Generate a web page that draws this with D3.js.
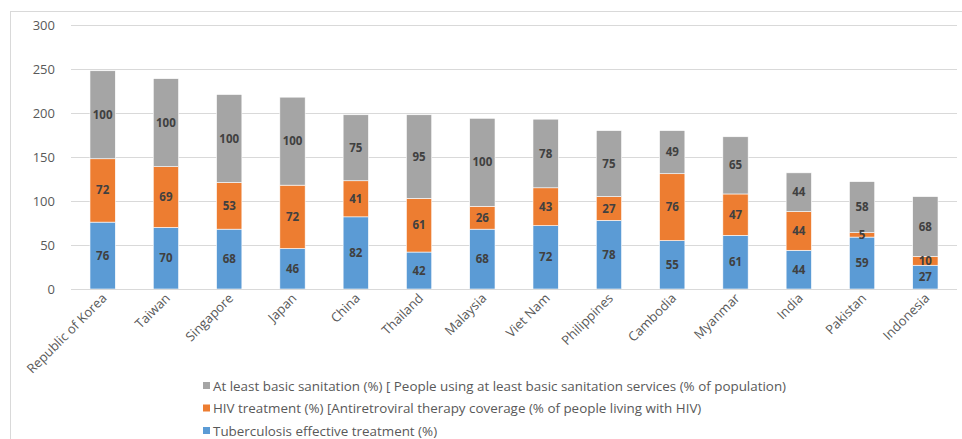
<!DOCTYPE html>
<html>
<head>
<meta charset="utf-8">
<script src="https://cdn.jsdelivr.net/npm/d3@7"></script>
<style>
  html, body { margin: 0; padding: 0; background: #fff; }
  svg { display: block; font-family: "Open Sans", "Noto Sans", sans-serif; }
</style>
</head>
<body>
<svg id="chart" width="962" height="439"></svg>
<script>
// Countries along the x axis
const countries = ["Republic of Korea", "Taiwan", "Singapore", "Japan", "China", "Thailand",
  "Malaysia", "Viet Nam", "Philippines", "Cambodia", "Myanmar", "India", "Pakistan", "Indonesia"];

// Series values (%), bottom to top of each stack
const tuberculosis = [76, 70, 68, 46, 82, 42, 68, 72, 78, 55, 61, 44, 59, 27];
const hivTreatment = [72, 69, 53, 72, 41, 61, 26, 43, 27, 76, 47, 44, 5, 10];
const sanitation   = [100, 100, 100, 100, 75, 95, 100, 78, 75, 49, 65, 44, 58, 68];

const seriesNames = [
  "Tuberculosis effective treatment (%)",
  "HIV treatment (%) [Antiretroviral therapy coverage (% of people living with HIV)",
  "At least basic sanitation (%) [ People using at least basic sanitation services (% of population)"
];
const yTicks = [0, 50, 100, 150, 200, 250, 300];

const colors = ["#5B9BD5", "#ED7D31", "#A5A5A5"];

const rows = countries.map((c, i) => ({
  country: c, s0: tuberculosis[i], s1: hivTreatment[i], s2: sanitation[i]
}));
const keys = ["s0", "s1", "s2"];
const stacked = d3.stack().keys(keys)(rows);

const svg = d3.select("#chart");
const W = 962, H = 439;
const margin = { left: 71 };
const plotRight = 957, plotBottom = 289, plotTop = 25;

// Chart frame
svg.append("rect")
  .attr("x", 10.5).attr("y", 11.5)
  .attr("width", W - 10).attr("height", H - 8)
  .attr("fill", "none").attr("stroke", "#D9D9D9").attr("stroke-width", 1);

const x = d3.scaleBand().domain(countries).range([margin.left, plotRight]).paddingInner(0.6).paddingOuter(0.3);
const y = d3.scaleLinear().domain([0, 300]).range([plotBottom, plotTop]);

// Gridlines and y tick labels
const yAxis = d3.axisLeft(y).tickValues(yTicks).tickSize(-(plotRight - margin.left)).tickPadding(16);
const gy = svg.append("g").attr("transform", `translate(${margin.left},0)`).call(yAxis);
gy.select(".domain").remove();
gy.selectAll(".tick line").attr("stroke", "#D9D9D9").attr("stroke-width", 1);
gy.selectAll(".tick text").attr("fill", "#595959").style("font-size", "13px")
  .style("font-family", "\"Open Sans\", sans-serif");

// Stacked bars
const layer = svg.append("g").selectAll("g").data(stacked).join("g")
  .attr("fill", (d, i) => colors[i]);
layer.selectAll("rect").data(d => d.map(p => ({ p, country: p.data.country }))).join("rect")
  .attr("x", d => x(d.country))
  .attr("width", x.bandwidth())
  .attr("y", d => y(d.p[1]))
  .attr("height", d => y(d.p[0]) - y(d.p[1]))
  .attr("stroke", "#fff").attr("stroke-width", 0.6);

// Value labels centred in each segment
const labels = svg.append("g");
stacked.forEach(s => {
  s.forEach(p => {
    labels.append("text")
      .attr("x", x(p.data.country) + x.bandwidth() / 2)
      .attr("y", y((p[0] + p[1]) / 2))
      .attr("dy", "0.35em")
      .attr("text-anchor", "middle")
      .attr("fill", "#404040")
      .style("font-size", "11.5px")
      .style("font-weight", "bold")
      .text(p[1] - p[0]);
  });
});

// Baseline
svg.append("line")
  .attr("x1", margin.left).attr("x2", plotRight)
  .attr("y1", plotBottom + 0.5).attr("y2", plotBottom + 0.5)
  .attr("stroke", "#D9D9D9");

// Rotated category labels
const xAxis = d3.axisBottom(x).tickSize(0).tickPadding(0);
const gx = svg.append("g").attr("transform", `translate(0,${plotBottom})`).call(xAxis);
gx.select(".domain").remove();
gx.selectAll(".tick text")
  .attr("fill", "#595959")
  .style("font-size", "13px")
  .style("font-family", "\"Open Sans\", sans-serif")
  .attr("text-anchor", "end")
  .attr("dy", 0)
  .attr("transform", "translate(5,10) rotate(-45)");

// Legend
const legendItems = [
  { name: seriesNames[2], color: colors[2] },
  { name: seriesNames[1], color: colors[1] },
  { name: seriesNames[0], color: colors[0] }
];
const lg = svg.append("g").attr("transform", "translate(203,386)");
legendItems.forEach((d, i) => {
  const row = lg.append("g").attr("transform", `translate(0,${i * 22.5})`);
  row.append("rect").attr("x", 0).attr("y", -4).attr("width", 7).attr("height", 7).attr("fill", d.color);
  row.append("text").attr("x", 10).attr("y", 0).attr("dy", "0.35em")
    .attr("fill", "#595959").style("font-size", "13.4px").text(d.name);
});
</script>
</body>
</html>
